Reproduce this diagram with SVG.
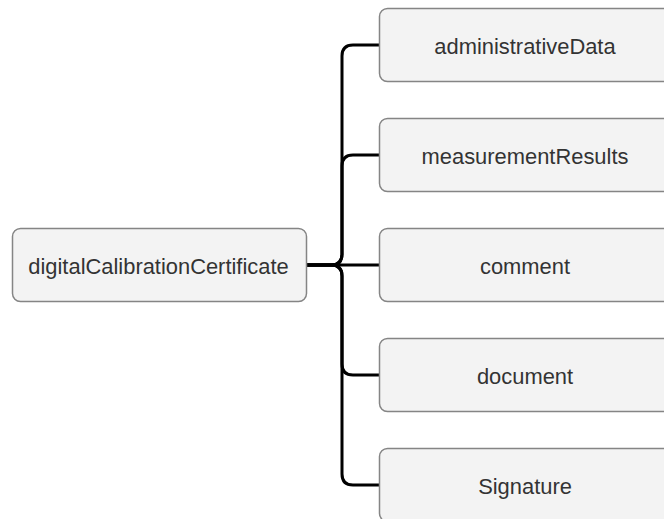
<svg xmlns="http://www.w3.org/2000/svg" width="664" height="519" viewBox="0 0 664 519">
<style>
.box{fill:#f3f3f3;stroke:#858585;stroke-width:1.5}
.lbl{font-family:"Liberation Sans",Arial,sans-serif;font-size:21.9px;fill:#333;text-anchor:middle}
.edge{fill:none;stroke:#000;stroke-width:3}
</style>
<rect width="664" height="519" fill="#fff"/>
<g id="connectors">
<path class="edge" d="M306 265 H331 Q342 265 342 254 V56 Q342 45 353 45 H379"/>
<path class="edge" d="M306 265 H331 Q342 265 342 254 V166 Q342 155 353 155 H379"/>
<path class="edge" d="M306 265 H379"/>
<path class="edge" d="M306 265 H331 Q342 265 342 276 V364 Q342 375 353 375 H379"/>
<path class="edge" d="M306 265 H331 Q342 265 342 276 V474 Q342 485 353 485 H379"/>
</g>
<g id="digitalCalibrationCertificate">
<rect class="box" x="12.5" y="228.5" width="294" height="73" rx="8"/>
<text class="lbl" x="158.5" y="273.5">digitalCalibrationCertificate</text>
</g>
<g id="administrativeData">
<rect class="box" x="379.5" y="8.5" width="292" height="73" rx="8"/>
<text class="lbl" x="525" y="53.5">administrativeData</text>
</g>
<g id="measurementResults">
<rect class="box" x="379.5" y="118.5" width="292" height="73" rx="8"/>
<text class="lbl" x="525" y="163.5">measurementResults</text>
</g>
<g id="comment">
<rect class="box" x="379.5" y="228.5" width="292" height="73" rx="8"/>
<text class="lbl" x="525" y="273.5">comment</text>
</g>
<g id="document">
<rect class="box" x="379.5" y="338.5" width="292" height="73" rx="8"/>
<text class="lbl" x="525" y="383.5">document</text>
</g>
<g id="Signature">
<rect class="box" x="379.5" y="448.5" width="292" height="73" rx="8"/>
<text class="lbl" x="525" y="493.5">Signature</text>
</g>
</svg>
